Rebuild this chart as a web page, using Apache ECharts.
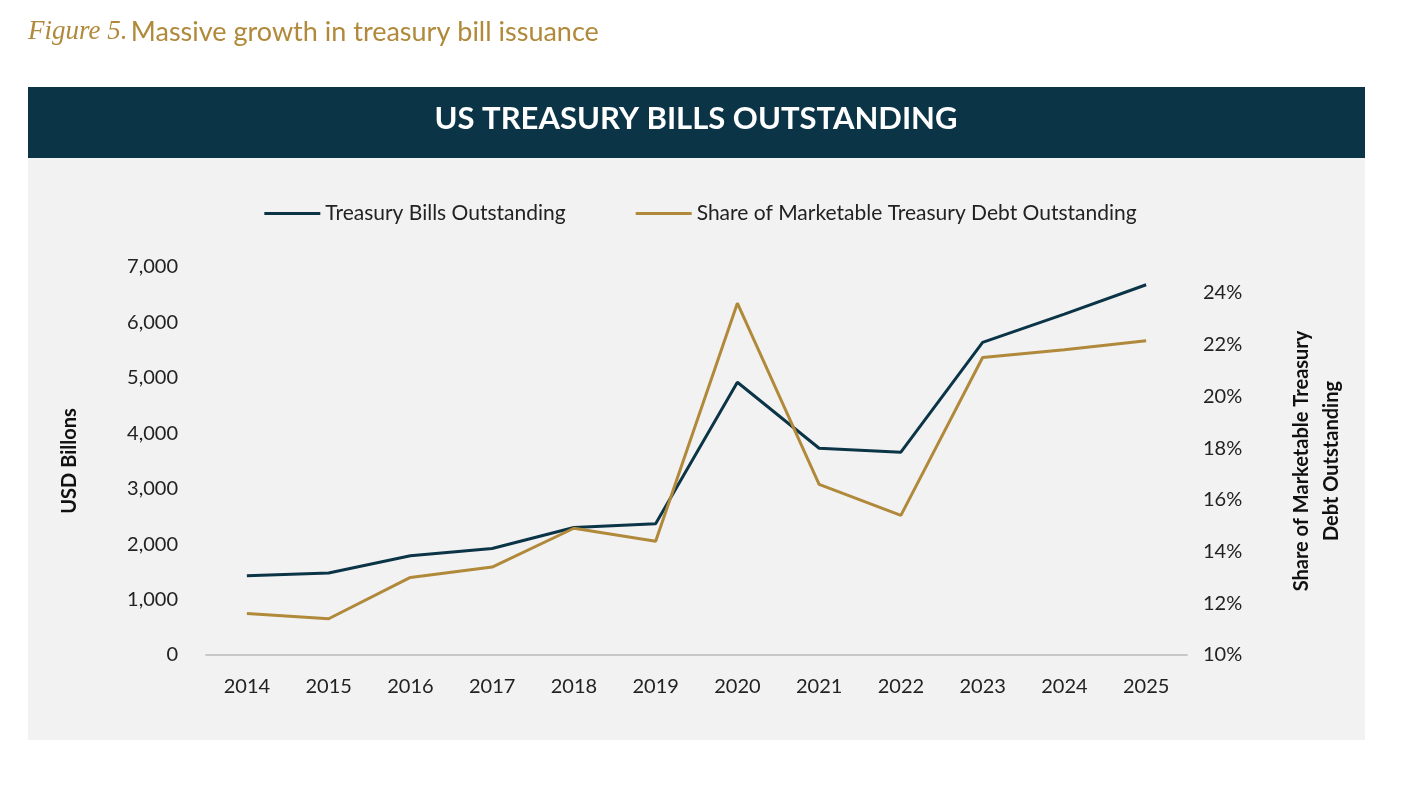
<!DOCTYPE html>
<html><head><meta charset="utf-8">
<script src="https://cdn.jsdelivr.net/npm/echarts@6/dist/echarts.min.js"></script>
<style>html,body{margin:0;padding:0;background:#fff}#c{width:1401px;height:788px}</style>
</head><body><div id="c"></div>
<script>
const years = ['2014','2015','2016','2017','2018','2019','2020','2021','2022','2023','2024','2025'];
const billsOutstanding = [1430,1480,1790,1920,2300,2370,4920,3730,3660,5640,6150,6680];
const shareOfDebt = [11.6,11.4,13.0,13.4,14.9,14.4,23.6,16.6,15.4,21.5,21.8,22.15];
const navy = '#0b3547', gold = '#b0893a';
const font = 'Lato';
const chart = echarts.init(document.getElementById('c'));
chart.setOption({
  animation:false,
  textStyle:{fontFamily:font},
  graphic:[
    {type:'rect',shape:{x:28,y:158,width:1337,height:582},style:{fill:'#f2f2f2'},z:-10},
    {type:'rect',shape:{x:28,y:87,width:1337,height:71},style:{fill:navy},z:-10},
    {type:'text',x:696,y:119,style:{text:'US TREASURY BILLS OUTSTANDING',fill:'#fff',font:'bold 31px Lato',textAlign:'center',textVerticalAlign:'middle'}},
    {type:'text',x:28,y:32,style:{rich:{a:{fontFamily:'Liberation Serif',fontStyle:'italic',fontSize:27,fill:gold},b:{fontFamily:font,fontSize:27,fill:gold}},text:'{a|Figure 5.} {b|Massive growth in treasury bill issuance}',textVerticalAlign:'middle'}}
  ],
  legend:{top:198,left:'center',itemGap:70,itemWidth:56,itemHeight:3,icon:'rect',
    textStyle:{fontSize:21,color:'#222',fontFamily:font},
    data:['Treasury Bills Outstanding','Share of Marketable Treasury Debt Outstanding']},
  grid:{left:206,right:214,top:267,bottom:133},
  xAxis:{type:'category',data:years,boundaryGap:true,
    axisLine:{lineStyle:{color:'#c8c8c8',width:2}},axisTick:{show:false},
    axisLabel:{fontSize:20,color:'#222',margin:22}},
  yAxis:[
    {type:'value',min:0,max:7000,interval:1000,splitLine:{show:false},
     axisLabel:{fontSize:20,color:'#222',margin:28,formatter:v=>v.toLocaleString('en-US')},
     name:'USD Billons',nameLocation:'middle',nameRotate:90,nameGap:126,
     nameTextStyle:{fontSize:20,fontWeight:'bold',color:'#111'}},
    {type:'value',min:10,max:25,interval:2,splitLine:{show:false},
     axisLabel:{fontSize:20,color:'#222',margin:16,formatter:v=>v+'%',showMaxLabel:false},
     name:'Share of Marketable Treasury\nDebt Outstanding',nameLocation:'middle',nameRotate:90,nameGap:100,
     nameTextStyle:{fontSize:20,fontWeight:'bold',color:'#111',lineHeight:30}}
  ],
  series:[
    {name:'Treasury Bills Outstanding',type:'line',data:billsOutstanding,yAxisIndex:0,
     showSymbol:false,lineStyle:{color:navy,width:3},itemStyle:{color:navy}},
    {name:'Share of Marketable Treasury Debt Outstanding',type:'line',data:shareOfDebt,yAxisIndex:1,
     showSymbol:false,lineStyle:{color:gold,width:3},itemStyle:{color:gold}}
  ]
});
</script></body></html>
